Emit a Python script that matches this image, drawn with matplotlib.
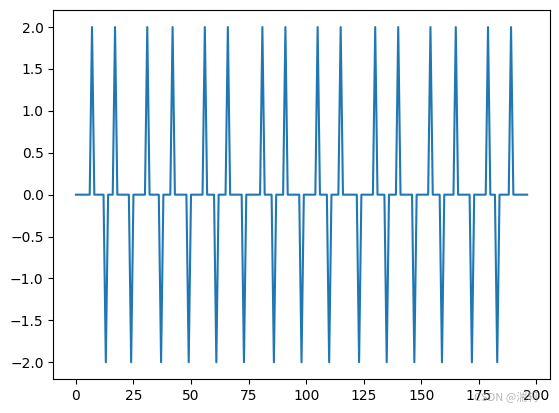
import numpy as np
import matplotlib.pyplot as plt

n_samples = 197
peak_pos = [7, 17, 31, 42, 56, 66, 81, 91, 105, 115, 130, 140, 154, 165, 179, 189]
trough_pos = [13, 24, 37, 49, 61, 73, 86, 98, 110, 123, 135, 147, 159, 172, 183]
peak_val = 2.0
trough_val = -2.0

signal = np.zeros(n_samples)
signal[peak_pos] = peak_val
signal[trough_pos] = trough_val

fig = plt.figure(figsize=(5.59, 4.13), dpi=100)
ax = fig.add_subplot(111)
fig.subplots_adjust(left=0.0954, right=0.9834, bottom=0.0823, top=0.975)
ax.plot(signal)

# watermark
fig.text(0.848, 0.038, "CSDN @湍轲", color="#999999", alpha=0.7, fontsize=8,
         family=["Noto Sans CJK SC", "DejaVu Sans"], ha="left", va="center")

fig.savefig("out.png", dpi=100)
